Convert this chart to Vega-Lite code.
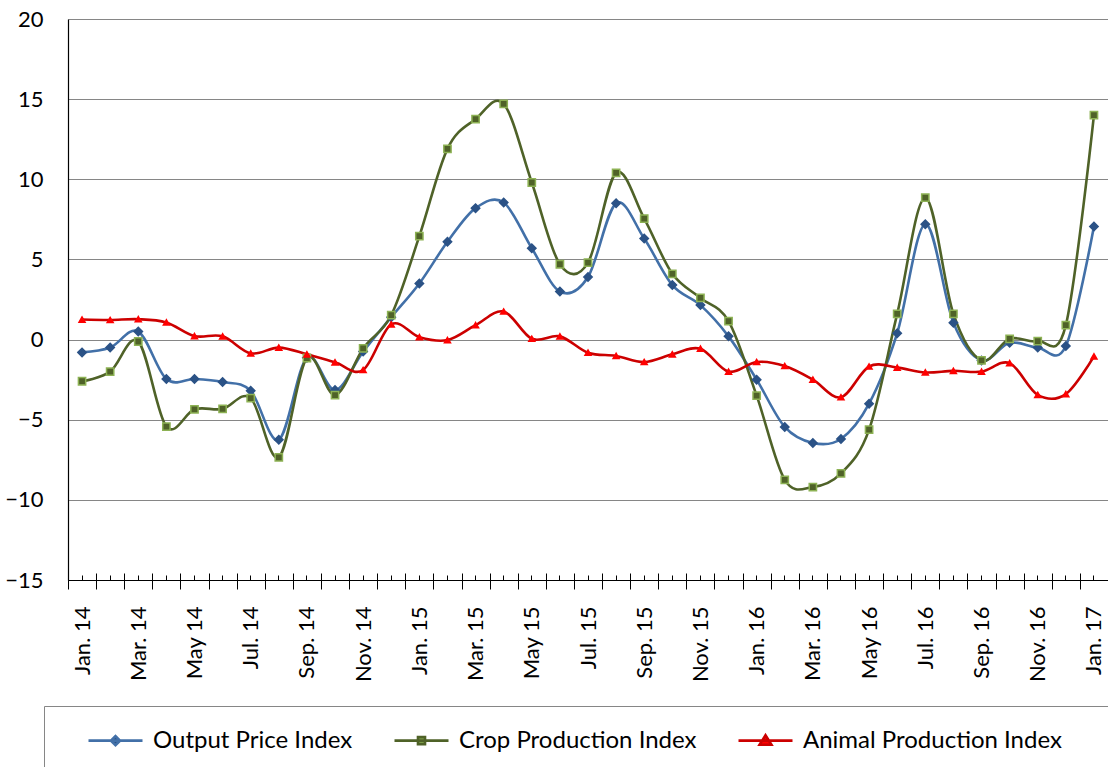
{
  "$schema": "https://vega.github.io/schema/vega-lite/v6.json",
  "autosize": "none",
  "width": 1040,
  "height": 561,
  "padding": {"left": 68, "top": 19, "right": 0, "bottom": 187},
  "background": "white",
  "config": {
    "view": {"stroke": null},
    "font": "Lato",
    "axis": {"labelFont": "Lato", "labelColor": "black", "title": null},
    "legend": {"labelFont": "Lato"}
  },
  "data": {"values": [
    {"m":"Jan. 14","s":"Output Price Index","v":-0.8},{"m":"Feb. 14","s":"Output Price Index","v":-0.5},{"m":"Mar. 14","s":"Output Price Index","v":0.5},{"m":"Apr. 14","s":"Output Price Index","v":-2.46},{"m":"May 14","s":"Output Price Index","v":-2.46},{"m":"Jun. 14","s":"Output Price Index","v":-2.65},{"m":"Jul. 14","s":"Output Price Index","v":-3.2},{"m":"Aug. 14","s":"Output Price Index","v":-6.25},{"m":"Sep. 14","s":"Output Price Index","v":-1.13},{"m":"Oct. 14","s":"Output Price Index","v":-3.15},{"m":"Nov. 14","s":"Output Price Index","v":-0.75},{"m":"Dec. 14","s":"Output Price Index","v":1.4},
    {"m":"Jan. 15","s":"Output Price Index","v":3.5},{"m":"Feb. 15","s":"Output Price Index","v":6.1},{"m":"Mar. 15","s":"Output Price Index","v":8.2},{"m":"Apr. 15","s":"Output Price Index","v":8.55},{"m":"May 15","s":"Output Price Index","v":5.7},{"m":"Jun. 15","s":"Output Price Index","v":3.0},{"m":"Jul. 15","s":"Output Price Index","v":3.9},{"m":"Aug. 15","s":"Output Price Index","v":8.5},{"m":"Sep. 15","s":"Output Price Index","v":6.3},{"m":"Oct. 15","s":"Output Price Index","v":3.4},{"m":"Nov. 15","s":"Output Price Index","v":2.15},{"m":"Dec. 15","s":"Output Price Index","v":0.2},
    {"m":"Jan. 16","s":"Output Price Index","v":-2.5},{"m":"Feb. 16","s":"Output Price Index","v":-5.45},{"m":"Mar. 16","s":"Output Price Index","v":-6.45},{"m":"Apr. 16","s":"Output Price Index","v":-6.2},{"m":"May 16","s":"Output Price Index","v":-4.0},{"m":"Jun. 16","s":"Output Price Index","v":0.4},{"m":"Jul. 16","s":"Output Price Index","v":7.2},{"m":"Aug. 16","s":"Output Price Index","v":1.05},{"m":"Sep. 16","s":"Output Price Index","v":-1.3},{"m":"Oct. 16","s":"Output Price Index","v":-0.2},{"m":"Nov. 16","s":"Output Price Index","v":-0.5},{"m":"Dec. 16","s":"Output Price Index","v":-0.4},{"m":"Jan. 17","s":"Output Price Index","v":7.05},
    {"m":"Jan. 14","s":"Crop Production Index","v":-2.6},{"m":"Feb. 14","s":"Crop Production Index","v":-2.0},{"m":"Mar. 14","s":"Crop Production Index","v":-0.12},{"m":"Apr. 14","s":"Crop Production Index","v":-5.43},{"m":"May 14","s":"Crop Production Index","v":-4.35},{"m":"Jun. 14","s":"Crop Production Index","v":-4.33},{"m":"Jul. 14","s":"Crop Production Index","v":-3.65},{"m":"Aug. 14","s":"Crop Production Index","v":-7.35},{"m":"Sep. 14","s":"Crop Production Index","v":-1.15},{"m":"Oct. 14","s":"Crop Production Index","v":-3.46},{"m":"Nov. 14","s":"Crop Production Index","v":-0.55},{"m":"Dec. 14","s":"Crop Production Index","v":1.52},
    {"m":"Jan. 15","s":"Crop Production Index","v":6.45},{"m":"Feb. 15","s":"Crop Production Index","v":11.9},{"m":"Mar. 15","s":"Crop Production Index","v":13.75},{"m":"Apr. 15","s":"Crop Production Index","v":14.7},{"m":"May 15","s":"Crop Production Index","v":9.8},{"m":"Jun. 15","s":"Crop Production Index","v":4.7},{"m":"Jul. 15","s":"Crop Production Index","v":4.8},{"m":"Aug. 15","s":"Crop Production Index","v":10.4},{"m":"Sep. 15","s":"Crop Production Index","v":7.55},{"m":"Oct. 15","s":"Crop Production Index","v":4.1},{"m":"Nov. 15","s":"Crop Production Index","v":2.6},{"m":"Dec. 15","s":"Crop Production Index","v":1.15},
    {"m":"Jan. 16","s":"Crop Production Index","v":-3.5},{"m":"Feb. 16","s":"Crop Production Index","v":-8.75},{"m":"Mar. 16","s":"Crop Production Index","v":-9.2},{"m":"Apr. 16","s":"Crop Production Index","v":-8.35},{"m":"May 16","s":"Crop Production Index","v":-5.62},{"m":"Jun. 16","s":"Crop Production Index","v":1.6},{"m":"Jul. 16","s":"Crop Production Index","v":8.85},{"m":"Aug. 16","s":"Crop Production Index","v":1.6},{"m":"Sep. 16","s":"Crop Production Index","v":-1.3},{"m":"Oct. 16","s":"Crop Production Index","v":0.05},{"m":"Nov. 16","s":"Crop Production Index","v":-0.1},{"m":"Dec. 16","s":"Crop Production Index","v":0.9},{"m":"Jan. 17","s":"Crop Production Index","v":14.0},
    {"m":"Jan. 14","s":"Animal Production Index","v":1.25},{"m":"Feb. 14","s":"Animal Production Index","v":1.22},{"m":"Mar. 14","s":"Animal Production Index","v":1.27},{"m":"Apr. 14","s":"Animal Production Index","v":1.07},{"m":"May 14","s":"Animal Production Index","v":0.22},{"m":"Jun. 14","s":"Animal Production Index","v":0.2},{"m":"Jul. 14","s":"Animal Production Index","v":-0.86},{"m":"Aug. 14","s":"Animal Production Index","v":-0.5},{"m":"Sep. 14","s":"Animal Production Index","v":-0.92},{"m":"Oct. 14","s":"Animal Production Index","v":-1.42},{"m":"Nov. 14","s":"Animal Production Index","v":-1.9},{"m":"Dec. 14","s":"Animal Production Index","v":0.95},
    {"m":"Jan. 15","s":"Animal Production Index","v":0.15},{"m":"Feb. 15","s":"Animal Production Index","v":-0.03},{"m":"Mar. 15","s":"Animal Production Index","v":0.9},{"m":"Apr. 15","s":"Animal Production Index","v":1.75},{"m":"May 15","s":"Animal Production Index","v":0.05},{"m":"Jun. 15","s":"Animal Production Index","v":0.2},{"m":"Jul. 15","s":"Animal Production Index","v":-0.82},{"m":"Aug. 15","s":"Animal Production Index","v":-1.02},{"m":"Sep. 15","s":"Animal Production Index","v":-1.4},{"m":"Oct. 15","s":"Animal Production Index","v":-0.92},{"m":"Nov. 15","s":"Animal Production Index","v":-0.57},{"m":"Dec. 15","s":"Animal Production Index","v":-2.0},
    {"m":"Jan. 16","s":"Animal Production Index","v":-1.4},{"m":"Feb. 16","s":"Animal Production Index","v":-1.65},{"m":"Mar. 16","s":"Animal Production Index","v":-2.5},{"m":"Apr. 16","s":"Animal Production Index","v":-3.6},{"m":"May 16","s":"Animal Production Index","v":-1.68},{"m":"Jun. 16","s":"Animal Production Index","v":-1.75},{"m":"Jul. 16","s":"Animal Production Index","v":-2.05},{"m":"Aug. 16","s":"Animal Production Index","v":-1.95},{"m":"Sep. 16","s":"Animal Production Index","v":-2.0},{"m":"Oct. 16","s":"Animal Production Index","v":-1.47},{"m":"Nov. 16","s":"Animal Production Index","v":-3.45},{"m":"Dec. 16","s":"Animal Production Index","v":-3.4},{"m":"Jan. 17","s":"Animal Production Index","v":-1.05}
  ]},
  "resolve": {
    "axis": {"x": "independent"},
    "scale": {"color": "independent", "fill": "independent", "stroke": "independent", "shape": "independent", "size": "independent"}
  },
  "layer": [
    {
      "mark": {"type": "line", "interpolate": "cardinal", "strokeWidth": 2.6},
      "encoding": {
        "x": {"field": "m", "type": "ordinal", "sort": null,
          "scale": {"type": "band", "paddingInner": 0, "paddingOuter": 0},
          "axis": {"orient": "bottom", "tickBand": "extent", "tickSize": 9, "tickColor": "black", "domainColor": "black", "domainWidth": 1.2,
            "labelAngle": -90, "labelFontSize": 22, "labelPadding": 17, "labelExpr": "test(/^(Jan|Mar|May|Jul|Sep|Nov)/, datum.label) ? datum.label : ''", "labelOverlap": false, "grid": false}},
        "y": {"field": "v", "type": "quantitative",
          "scale": {"domain": [-15, 20], "nice": false, "zero": false},
          "axis": {"values": [-15, -10, -5, 0, 5, 10, 15, 20], "ticks": false, "domainColor": "black", "domainWidth": 1.2,
            "grid": true, "gridColor": "#868686", "gridWidth": 1, "labelFontSize": 22, "labelPadding": 25}},
        "color": {"field": "s", "type": "nominal",
          "scale": {"domain": ["Output Price Index", "Crop Production Index", "Animal Production Index"], "range": ["#4270A8", "#4F6228", "#CC0000"]},
          "legend": null}
      }
    },
    {
      "mark": {"type": "point", "filled": true, "opacity": 1, "strokeWidth": 1.5},
      "encoding": {
        "x": {"field": "m", "type": "ordinal", "sort": null,
          "axis": {"orient": "bottom", "tickBand": "extent", "tickSize": -7, "tickColor": "black", "domain": false, "labels": false, "grid": false}},
        "y": {"field": "v", "type": "quantitative"},
        "fill": {"field": "s", "type": "nominal",
          "scale": {"domain": ["Output Price Index", "Crop Production Index", "Animal Production Index"], "range": ["#2B5286", "#4F6228", "#FF0000"]},
          "legend": null},
        "stroke": {"field": "s", "type": "nominal",
          "scale": {"domain": ["Output Price Index", "Crop Production Index", "Animal Production Index"], "range": ["#2B5286", "#8DB254", "#FF0000"]},
          "legend": null},
        "shape": {"field": "s", "type": "nominal",
          "scale": {"domain": ["Output Price Index", "Crop Production Index", "Animal Production Index"], "range": ["diamond", "square", "triangle-up"]},
          "legend": null},
        "size": {"field": "s", "type": "nominal",
          "scale": {"domain": ["Output Price Index", "Crop Production Index", "Animal Production Index"], "range": [70, 36, 130]},
          "legend": null}
      }
    },
    {
      "transform": [{"filter": "false"}],
      "mark": {"type": "point", "filled": true, "opacity": 1, "strokeWidth": 2.6},
      "encoding": {
        "x": {"field": "m", "type": "ordinal", "sort": null,
          "axis": {"orient": "bottom", "tickBand": "center", "tickSize": -5, "tickColor": "black", "domain": false, "labels": false, "grid": false}},
        "y": {"field": "v", "type": "quantitative"},
        "fill": {"field": "s", "type": "nominal",
          "scale": {"domain": ["Output Price Index", "Crop Production Index", "Animal Production Index", " "], "range": ["#2B5286", "#8DB254", "#FF0000", "white"]},
          "legend": {"title": " ", "titleOrient": "left", "titleFontSize": 1, "titlePadding": 37, "orient": "none", "legendX": -24, "legendY": 687, "direction": "horizontal", "columns": 4,
            "padding": 6, "strokeColor": "#868686", "fillColor": "white", "labelFontSize": 24, "labelColor": "black", "labelOffset": 9, "columnPadding": 36, "symbolSize": 2916, "symbolStrokeWidth": 2.6, "symbolOpacity": 1, "labelLimit": 400}},
        "stroke": {"field": "s", "type": "nominal",
          "scale": {"domain": ["Output Price Index", "Crop Production Index", "Animal Production Index", " "], "range": ["#4270A8", "#4F6228", "#CC0000", "white"]},
          "legend": {"title": " ", "titleOrient": "left", "titleFontSize": 1, "titlePadding": 37, "orient": "none", "legendX": -24, "legendY": 687, "direction": "horizontal", "columns": 4,
            "padding": 6, "strokeColor": "#868686", "fillColor": "white", "labelFontSize": 24, "labelColor": "black", "labelOffset": 9, "columnPadding": 36, "symbolSize": 2916, "symbolStrokeWidth": 2.6, "symbolOpacity": 1, "labelLimit": 400}},
        "shape": {"field": "s", "type": "nominal",
          "scale": {"domain": ["Output Price Index", "Crop Production Index", "Animal Production Index", " "], "range": ["M0,-1M0,1M-1,0H1M-0.17,0L0,-0.17L0.17,0L0,0.17Z", "M0,-1M0,1M-1,0H1M-0.13,-0.13H0.13V0.13H-0.13Z", "M0,-1M0,1M-1,0H1M0,-0.2L0.22,0.15H-0.22Z", "M0,-1M0,1"]},
          "legend": {"title": " ", "titleOrient": "left", "titleFontSize": 1, "titlePadding": 37, "orient": "none", "legendX": -24, "legendY": 687, "direction": "horizontal", "columns": 4,
            "padding": 6, "strokeColor": "#868686", "fillColor": "white", "labelFontSize": 24, "labelColor": "black", "labelOffset": 9, "columnPadding": 36, "symbolSize": 2916, "symbolStrokeWidth": 2.6, "symbolOpacity": 1, "labelLimit": 400}}
      }
    }
  ]
}
